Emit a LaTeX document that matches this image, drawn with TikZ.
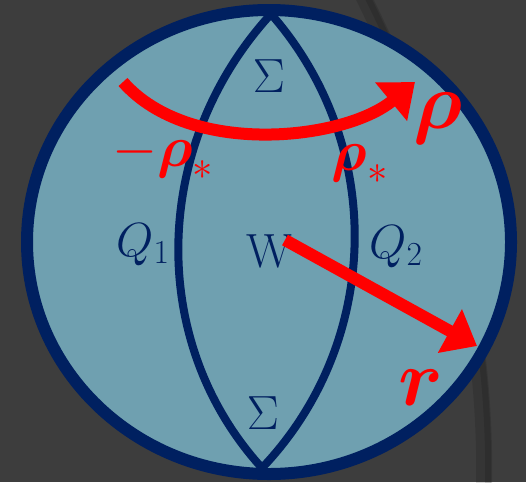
\RequirePackage{fix-cm}
\documentclass[tikz,border=0pt]{standalone}
\usepackage{amsmath}
\usepackage{tikz}
\usetikzlibrary{arrows.meta}
\definecolor{bggray}{RGB}{61,61,61}
\definecolor{ballblue}{RGB}{111,160,176}
\definecolor{navy}{RGB}{0,32,96}
\definecolor{vecred}{RGB}{255,0,0}

\tikzset{
  lbl/.style={text=navy, inner sep=0pt, font=\fontsize{48}{52}\selectfont},
  redlbl/.style={text=vecred, inner sep=0pt, font=\fontsize{80}{84}\selectfont},
  starlbl/.style={text=vecred, inner sep=0pt, font=\fontsize{58}{62}\selectfont},
  vec/.style={draw=vecred, line width=12pt, -{Triangle[length=31pt,width=48pt]}},
  wall/.style={draw=navy, line width=8pt},
}

\begin{document}
\begin{tikzpicture}[x=1pt,y=-1pt]
  % Background
  \fill[bggray] (0,0) rectangle (526,482);
  \useasboundingbox (0,0) rectangle (526,482);
  \draw[black, opacity=0.12, line width=16pt] (360,-10) .. controls (440,150) and (488,300) .. (484,495);
  \draw[black, opacity=0.12, line width=6pt] (364,-10) .. controls (444,150) and (492,300) .. (488,495);
  % Ball
  \filldraw[fill=ballblue, draw=navy, line width=12pt] (269,242) ellipse [x radius=242, y radius=232];
  % Lens walls
  \coordinate (top) at (271,14);
  \coordinate (bot) at (262,468);
  \draw[wall] (top) .. controls (151,145) and (147,342) .. (bot);
  \draw[wall] (top) .. controls (386,145) and (382,342) .. (bot);
  % Labels
  \node[lbl, anchor=base] (sigmaTop) at (269,92) {$\Sigma$};
  \node[lbl, anchor=base] (sigmaBot) at (263,429) {$\Sigma$};
  \node[lbl, anchor=base] (qOne) at (143,256) {$Q_1$};
  \node[lbl, anchor=base] (qTwo) at (396,258) {$Q_2$};
  \node[lbl, anchor=base] (w) at (269,267) {W};
  % Rotation
  \coordinate (rotStart) at (123,82);
  \coordinate (rotEnd) at (415,82);
  \draw[vec] (rotStart) .. controls (190,158) and (345,140) .. (rotEnd);
  \node[redlbl, anchor=base] (rho) at (438,128) {$\boldsymbol{\rho}$};
  \node[starlbl, anchor=base] (rhoMinus) at (163,166) {$-\boldsymbol{\rho}_*$};
  \node[starlbl, anchor=base] (rhoStar) at (360,170) {$\boldsymbol{\rho}_*$};
  % Radius
  \coordinate (rStart) at (285,240);
  \coordinate (rEnd) at (477,346);
  \draw[vec] (rStart) -- (rEnd);
  \node[redlbl, anchor=base] (r) at (421,405) {$\boldsymbol{r}$};
\end{tikzpicture}
\end{document}
